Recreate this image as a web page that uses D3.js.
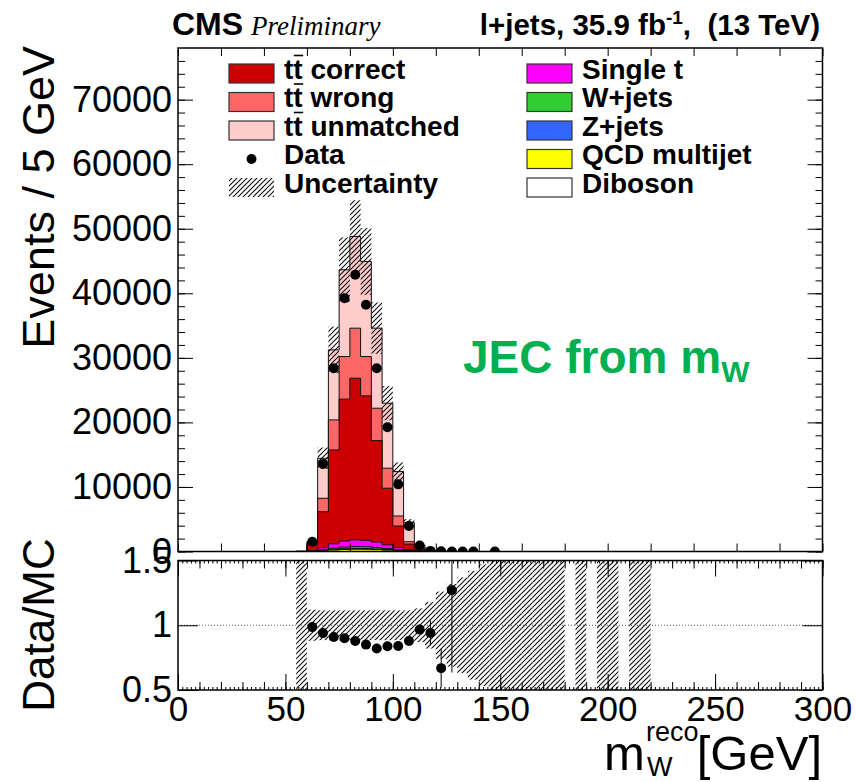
<!DOCTYPE html>
<html>
<head>
<meta charset="utf-8">
<script src="https://cdn.jsdelivr.net/npm/d3@7"></script>
<style>
  body { margin: 0; background: #fff; }
  svg text { font-family: "Liberation Sans", Arial, Helvetica, sans-serif; }
</style>
</head>
<body>
<div id="chart"></div>
<script>

// ---- data (5 GeV bins, low edge) ----
const binW = 5;
const binLow      = [55, 60, 65, 70, 75, 80, 85, 90, 95, 100, 105, 110, 115, 120, 125, 130, 135, 140];
const ttCorrect   = [5, 890, 5580, 14550, 21990, 25050, 22390, 15710, 8770, 3360, 910, 300, 20, 4, 0.2, 0, 0, 0];
const ttWrong     = [3, 200, 2080, 4650, 6600, 7750, 6090, 5020, 3100, 1550, 360, 150, 15, 3, 0.15, 0, 0, 0];
const ttUnmatched = [10, 340, 6200, 10850, 13440, 14200, 14730, 12400, 10070, 6880, 2980, 400, 36, 13, 0.5, 0.1, 0.1, 0.1];
const singleT     = [4, 50, 330, 680, 930, 1040, 990, 840, 590, 340, 140, 55, 15, 5, 1, 0.4, 0.2, 0.1];
const wJets       = [2, 25, 100, 190, 250, 280, 270, 230, 160, 90, 40, 18, 6, 2, 0.5, 0.2, 0.1, 0];
const zJets       = [1, 8, 35, 65, 85, 95, 90, 80, 55, 30, 12, 6, 2, 0.5, 0.2, 0.1, 0, 0];
const qcd         = [2, 25, 110, 230, 320, 350, 340, 290, 210, 120, 50, 20, 6, 2, 0.5, 0.2, 0.1, 0];
const diboson     = [0.5, 4, 12, 22, 30, 34, 33, 28, 20, 12, 6, 3, 1, 0.4, 0.1, 0, 0, 0];
const dataCounts  = [0, 1520, 13570, 28400, 39250, 42870, 38220, 28400, 19250, 10400, 3950, 920, 95, 20, 4, 2, 1, 0];

// far tail: only a tiny total MC left (gives the wide ratio band)
const tailLow  = [145, 150, 155, 160, 165, 170, 175, 180, 185, 190, 195, 200, 205, 210, 215];
const tailMC   = [0.3, 0.2, 0.15, 0.1, 0.1, 0.05, 0.05, 0, 0.03, 0, 0.02, 0.02, 0, 0.01, 0.01];
const tailData = [1, 0, 0, 0, 0, 0, 0, 0, 0, 0, 0, 0, 0, 0, 0];

// relative MC uncertainty, binLow then tailLow
const relUnc = [0.9, 0.12, 0.115, 0.115, 0.115, 0.115, 0.115, 0.115, 0.115, 0.115, 0.115, 0.13, 0.18, 0.26, 0.32, 0.37, 0.42, 0.47,
                1, 1, 1, 1, 1, 1, 1, 0, 1, 0, 1, 1, 0, 1, 1];

const yTicksMain = [0, 10000, 20000, 30000, 40000, 50000, 60000, 70000];
const xTickLabels = [0, 50, 100, 150, 200, 250, 300];
const ratioTicks = [0.5, 1, 1.5];

const legendLeft  = ['correct', 'wrong', 'unmatched', 'Data', 'Uncertainty'];
const legendRight = ['Single t', 'W+jets', 'Z+jets', 'QCD multijet', 'Diboson'];

// ---- layout ----
const W = 856, H = 782;
const xL = 178, xR = 822.5;
const topY0 = 48, topY1 = 551.5;
const ratY0 = 560.5, ratY1 = 690;

const col = {
  ttCorrect: '#cc0000', ttWrong: '#ff6666', ttUnmatched: '#ffcccc',
  singleT: '#ff00ff', wJets: '#33cc33', zJets: '#3366ff', qcd: '#ffff00', diboson: '#ffffff'
};

const svg = d3.select('#chart').append('svg')
  .attr('width', W).attr('height', H);

const x  = d3.scaleLinear().domain([0, 300]).range([xL, xR]);
const y  = d3.scaleLinear().domain([0, 78000]).range([topY1, topY0]);
const yr = d3.scaleLinear().domain([0.5, 1.5]).range([ratY1, ratY0]);

const defs = svg.append('defs');
defs.append('pattern')
  .attr('id', 'hatch').attr('patternUnits', 'userSpaceOnUse')
  .attr('width', 5).attr('height', 5)
  .append('path')
    .attr('d', 'M-1,1 L1,-1 M0,5 L5,0 M4,6 L6,4')
    .attr('stroke', '#111').attr('stroke-width', 1.15);
defs.append('clipPath').attr('id', 'clipTop').append('rect')
  .attr('x', xL).attr('y', topY0).attr('width', xR - xL).attr('height', topY1 - topY0);
defs.append('clipPath').attr('id', 'clipRat').append('rect')
  .attr('x', xL).attr('y', ratY0).attr('width', xR - xL).attr('height', ratY1 - ratY0);

// ---- stack (bottom -> top) ----
const layers = [
  { vals: qcd, color: col.qcd },
  { vals: diboson, color: col.diboson },
  { vals: zJets, color: col.zJets },
  { vals: wJets, color: col.wJets },
  { vals: singleT, color: col.singleT },
  { vals: ttCorrect, color: col.ttCorrect },
  { vals: ttWrong, color: col.ttWrong },
  { vals: ttUnmatched, color: col.ttUnmatched }
];
let cum = binLow.map(() => 0);
layers.forEach(l => {
  cum = cum.map((c, i) => c + l.vals[i]);
  l.top = cum.slice();
});

// all bins together for band / ratio
const allLow  = binLow.concat(tailLow);
const allMC   = cum.concat(tailMC);
const allData = dataCounts.concat(tailData);
const bins = allLow.map((lo, i) => ({ lo, mc: allMC[i], data: allData[i], u: relUnc[i] }));

const line = d3.line().x(d => x(d[0])).y(d => y(d[1]));
function stepPoints(lows, vals) {
  const pts = [[lows[0], 0]];
  lows.forEach((lo, i) => { pts.push([lo, vals[i]]); pts.push([lo + binW, vals[i]]); });
  pts.push([lows[lows.length - 1] + binW, 0]);
  return pts;
}

const gTop = svg.append('g').attr('clip-path', 'url(#clipTop)');

// draw the biggest cumulative first, like THStack
layers.slice().reverse().forEach(l => {
  gTop.append('path')
    .attr('d', line(stepPoints(binLow, l.top)) + 'Z')
    .attr('fill', l.color)
    .attr('stroke', '#111')
    .attr('stroke-width', 1);
});

// uncertainty hatch on top of stack
gTop.selectAll('rect.unc')
  .data(bins.filter(d => d.mc > 0))
  .join('rect')
    .attr('class', 'unc')
    .attr('x', d => x(d.lo))
    .attr('width', d => x(d.lo + binW) - x(d.lo))
    .attr('y', d => y(d.mc * (1 + d.u)))
    .attr('height', d => y(Math.max(0, d.mc * (1 - d.u))) - y(d.mc * (1 + d.u)))
    .attr('fill', 'url(#hatch)');

// data points
gTop.selectAll('circle.data')
  .data(bins.filter(d => d.data > 0))
  .join('circle')
    .attr('class', 'data')
    .attr('cx', d => x(d.lo + binW / 2))
    .attr('cy', d => y(d.data))
    .attr('r', 5)
    .attr('fill', '#000');

// ---- ratio panel ----
const gRat = svg.append('g').attr('clip-path', 'url(#clipRat)');

gRat.selectAll('rect.band')
  .data(bins.filter(d => d.mc > 0 && d.u > 0))
  .join('rect')
    .attr('class', 'band')
    .attr('x', d => x(d.lo))
    .attr('width', d => x(d.lo + binW) - x(d.lo))
    .attr('y', d => yr(1 + d.u))
    .attr('height', d => yr(1 - d.u) - yr(1 + d.u))
    .attr('fill', 'url(#hatch)');

gRat.append('line')
  .attr('x1', xL).attr('x2', xR)
  .attr('y1', yr(1)).attr('y2', yr(1))
  .attr('stroke', '#555').attr('stroke-width', 1)
  .attr('stroke-dasharray', '1,2');

const ratioPts = bins
  .filter(d => d.data > 0 && d.mc > 0)
  .map(d => ({ xc: d.lo + binW / 2, r: d.data / d.mc, e: Math.sqrt(d.data) / d.mc }))
  .filter(d => d.r >= 0.5 && d.r <= 1.5);

gRat.selectAll('line.err')
  .data(ratioPts)
  .join('line')
    .attr('class', 'err')
    .attr('x1', d => x(d.xc)).attr('x2', d => x(d.xc))
    .attr('y1', d => yr(d.r - d.e)).attr('y2', d => yr(d.r + d.e))
    .attr('stroke', '#000').attr('stroke-width', 1);

gRat.selectAll('circle.rat')
  .data(ratioPts)
  .join('circle')
    .attr('class', 'rat')
    .attr('cx', d => x(d.xc))
    .attr('cy', d => yr(d.r))
    .attr('r', 5)
    .attr('fill', '#000');

// ---- axes (ROOT style, ticks inside, both sides) ----
function styleAxis(g, labelSize) {
  g.select('.domain').remove();
  g.selectAll('.tick line').attr('stroke', '#000').attr('stroke-width', 1);
  g.selectAll('.tick text')
    .attr('font-family', '"Liberation Sans", Arial, sans-serif')
    .attr('font-size', labelSize || 35)
    .attr('fill', '#000');
  return g;
}
const noLab = () => '';

// top panel
const xt20 = d3.range(0, 301, 20);
styleAxis(svg.append('g').attr('transform', `translate(0,${topY1})`)
  .call(d3.axisBottom(x).tickValues(xt20).tickSize(-8).tickFormat(noLab)));
styleAxis(svg.append('g').attr('transform', `translate(0,${topY0})`)
  .call(d3.axisTop(x).tickValues(xt20).tickSize(-8).tickFormat(noLab)));

styleAxis(svg.append('g').attr('transform', `translate(${xL},0)`)
  .call(d3.axisLeft(y).tickValues(yTicksMain).tickSize(-15).tickPadding(6).tickFormat(d3.format('d'))), 36);
styleAxis(svg.append('g').attr('transform', `translate(${xL},0)`)
  .call(d3.axisLeft(y).tickValues(d3.range(0, 78000, 2000)).tickSize(-7).tickFormat(noLab)));
styleAxis(svg.append('g').attr('transform', `translate(${xR},0)`)
  .call(d3.axisRight(y).tickValues(yTicksMain).tickSize(-15).tickFormat(noLab)));
styleAxis(svg.append('g').attr('transform', `translate(${xR},0)`)
  .call(d3.axisRight(y).tickValues(d3.range(0, 78000, 2000)).tickSize(-7).tickFormat(noLab)));

// ratio panel
[[ratY1, d3.axisBottom], [ratY0, d3.axisTop]].forEach(([yy, ax], k) => {
  styleAxis(svg.append('g').attr('transform', `translate(0,${yy})`)
    .call(ax(x).tickValues(xTickLabels).tickSize(-16).tickPadding(6)
      .tickFormat(k === 0 ? d3.format('d') : noLab)));
  styleAxis(svg.append('g').attr('transform', `translate(0,${yy})`)
    .call(ax(x).tickValues(d3.range(0, 301, 10)).tickSize(-8).tickFormat(noLab)));
  styleAxis(svg.append('g').attr('transform', `translate(0,${yy})`)
    .call(ax(x).tickValues(d3.range(0, 301, 2)).tickSize(-3).tickFormat(noLab)));
});
styleAxis(svg.append('g').attr('transform', `translate(${xL},0)`)
  .call(d3.axisLeft(yr).tickValues(ratioTicks).tickSize(-20).tickPadding(6).tickFormat(d => d === 1 ? '1' : String(d))), 36);
styleAxis(svg.append('g').attr('transform', `translate(${xR},0)`)
  .call(d3.axisRight(yr).tickValues(ratioTicks).tickSize(-20).tickFormat(noLab)));

// frames
svg.append('rect').attr('x', xL).attr('y', topY0).attr('width', xR - xL).attr('height', topY1 - topY0)
  .attr('fill', 'none').attr('stroke', '#000').attr('stroke-width', 1.5);
svg.append('rect').attr('x', xL).attr('y', ratY0).attr('width', xR - xL).attr('height', ratY1 - ratY0)
  .attr('fill', 'none').attr('stroke', '#000').attr('stroke-width', 1.5);

// ---- titles ----
svg.append('text').attr('x', 54).attr('y', 46)
  .attr('transform', 'rotate(-90,54,46)')
  .attr('text-anchor', 'end').attr('font-size', 45)
  .text('Events / 5 GeV');
svg.append('text').attr('x', 54).attr('y', 625)
  .attr('transform', 'rotate(-90,54,625)')
  .attr('text-anchor', 'middle').attr('font-size', 44)
  .text('Data/MC');

// x title: m with W below and reco above
svg.append('text').attr('x', 604).attr('y', 770).attr('font-size', 49).text('m');
svg.append('text').attr('x', 646).attr('y', 741).attr('font-size', 27).text('reco');
svg.append('text').attr('x', 647).attr('y', 776).attr('font-size', 27).text('W');
svg.append('text').attr('x', 822).attr('y', 770).attr('text-anchor', 'end').attr('font-size', 49).text('[GeV]');

svg.append('text').attr('x', 172).attr('y', 35)
  .attr('font-weight', 'bold').attr('font-size', 32).text('CMS');
svg.append('text').attr('x', 251).attr('y', 35)
  .style('font-family', '"Liberation Serif", "Times New Roman", serif')
  .attr('font-style', 'italic').attr('font-size', 27).text('Preliminary');

const lumi = svg.append('text').attr('x', 820).attr('y', 35)
  .attr('text-anchor', 'end').attr('font-weight', 'bold').attr('font-size', 29.5);
lumi.append('tspan').text('l+jets, 35.9 fb');
lumi.append('tspan').attr('dy', -11).attr('font-size', 19).text('-1');
lumi.append('tspan').attr('dy', 11).text(',\u00a0 (13 TeV)');

const jec = svg.append('text').attr('x', 463).attr('y', 373)
  .attr('font-weight', 'bold').attr('font-size', 46).attr('fill', '#00b050');
jec.append('tspan').text('JEC from m');
jec.append('tspan').attr('dy', 9).attr('font-size', 30).text('W');

// ---- legend ----
const rowY = i => 73.5 + i * 28.5;
const boxW = 45, boxH = 19;
const lg = svg.append('g').attr('font-weight', 'bold').attr('font-size', 28);

const leftFill = [col.ttCorrect, col.ttWrong, col.ttUnmatched];
legendLeft.forEach((lab, i) => {
  const cy = rowY(i);
  if (i < 3) {
    lg.append('rect').attr('x', 229).attr('y', cy - boxH / 2).attr('width', boxW).attr('height', boxH)
      .attr('fill', leftFill[i]).attr('stroke', '#333').attr('stroke-width', 1.2);
    const t = lg.append('text').attr('x', 284).attr('y', cy + 5);
    t.append('tspan').text('tt');
    t.append('tspan').text(' ' + lab);
    // bar over the second t
    const node = t.node();
    const a = node.getStartPositionOfChar(1).x, b = node.getEndPositionOfChar(1).x;
    lg.append('line').attr('x1', a + 0.5).attr('x2', b + 0.5)
      .attr('y1', cy + 5 - 23).attr('y2', cy + 5 - 23)
      .attr('stroke', '#000').attr('stroke-width', 1.6);
  } else {
    if (lab === 'Data') {
      lg.append('circle').attr('cx', 229 + boxW / 2).attr('cy', cy).attr('r', 5).attr('fill', '#000');
    } else {
      lg.append('rect').attr('x', 229).attr('y', cy - boxH / 2).attr('width', boxW).attr('height', boxH)
        .attr('fill', 'url(#hatch)');
    }
    lg.append('text').attr('x', 284).attr('y', cy + 5).text(lab);
  }
});

const rightFill = [col.singleT, col.wJets, col.zJets, col.qcd, col.diboson];
legendRight.forEach((lab, i) => {
  const cy = rowY(i);
  lg.append('rect').attr('x', 527).attr('y', cy - boxH / 2).attr('width', boxW).attr('height', boxH)
    .attr('fill', rightFill[i]).attr('stroke', '#333').attr('stroke-width', 1.2);
  lg.append('text').attr('x', 582).attr('y', cy + 5).text(lab);
});

</script>
</body>
</html>
